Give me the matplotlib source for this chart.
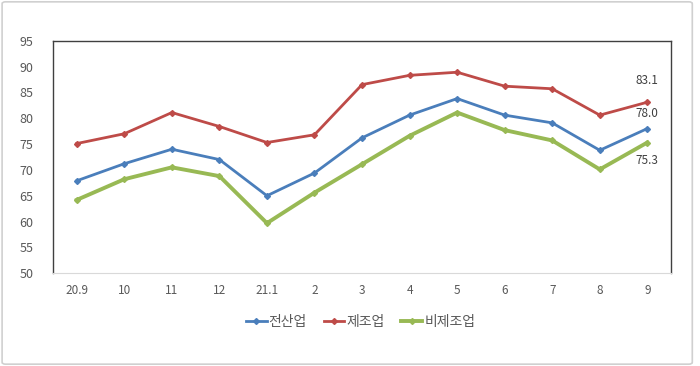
import matplotlib.pyplot as plt
from matplotlib.patches import FancyBboxPatch

plt.rcParams['font.family'] = ['Noto Sans CJK KR', 'DejaVu Sans']

months = ['20.9', '10', '11', '12', '21.1', '2', '3', '4', '5', '6', '7', '8', '9']
all_ind = [67.9, 71.2, 74.0, 72.0, 65.0, 69.4, 76.2, 80.6, 83.8, 80.6, 79.1, 73.8, 78.0]
manuf = [75.1, 77.0, 81.1, 78.4, 75.3, 76.8, 86.5, 88.3, 88.9, 86.2, 85.7, 80.6, 83.1]
non_manuf = [64.2, 68.2, 70.5, 68.8, 59.7, 65.6, 71.1, 76.6, 81.1, 77.7, 75.7, 70.1, 75.3]
names = ['전산업', '제조업', '비제조업']

fig = plt.figure(figsize=(7, 3.66), dpi=100)
# outer chart border
fig.patches.append(FancyBboxPatch((0.003, 0.005), 0.986, 0.99, boxstyle='round,pad=0,rounding_size=0.005',
                                  transform=fig.transFigure, fill=False, edgecolor='#d0d0d0', lw=1.2))
ax = fig.add_axes([0.0757, 0.2533, 0.883, 0.6355])

x = range(len(months))
ax.plot(x, all_ind, '-D', color='#4a7ebb', lw=2, ms=3, label=names[0])
ax.plot(x, manuf, '-D', color='#be4b48', lw=2, ms=3, label=names[1])
ax.plot(x, non_manuf, '-D', color='#98b954', lw=2.8, ms=3, label=names[2])

last = len(months) - 1
ax.annotate(f'{manuf[-1]:.1f}', (last, manuf[-1]), xytext=(0, 11), textcoords='offset points',
            ha='center', va='bottom', fontsize=8.5, color='#404040')
ax.annotate(f'{all_ind[-1]:.1f}', (last, all_ind[-1]), xytext=(0, 6), textcoords='offset points',
            ha='center', va='bottom', fontsize=8.5, color='#404040')
ax.annotate(f'{non_manuf[-1]:.1f}', (last, non_manuf[-1]), xytext=(0, -8), textcoords='offset points',
            ha='center', va='top', fontsize=8.5, color='#404040')

ax.set_xlim(-0.5, len(months) - 0.5)
ax.set_ylim(50, 95)
ax.set_yticks(range(50, 96, 5))
ax.set_xticks(list(x))
ax.set_xticklabels(months)
ax.tick_params(length=0, labelsize=8.5, colors='#595959', pad=8)
ax.tick_params(axis='y', pad=14, labelsize=9)
for s in ['left', 'top', 'right']:
    ax.spines[s].set_color('#404040')
    ax.spines[s].set_linewidth(1)
ax.spines['bottom'].set_color('#d9d9d9')

fig.legend(loc='center', bbox_to_anchor=(0.515, 0.12), ncol=3, frameon=False, fontsize=10,
           handlelength=1.5, handletextpad=0.15, columnspacing=1.2, labelcolor='#595959')

fig.savefig('out.png', dpi=100)
